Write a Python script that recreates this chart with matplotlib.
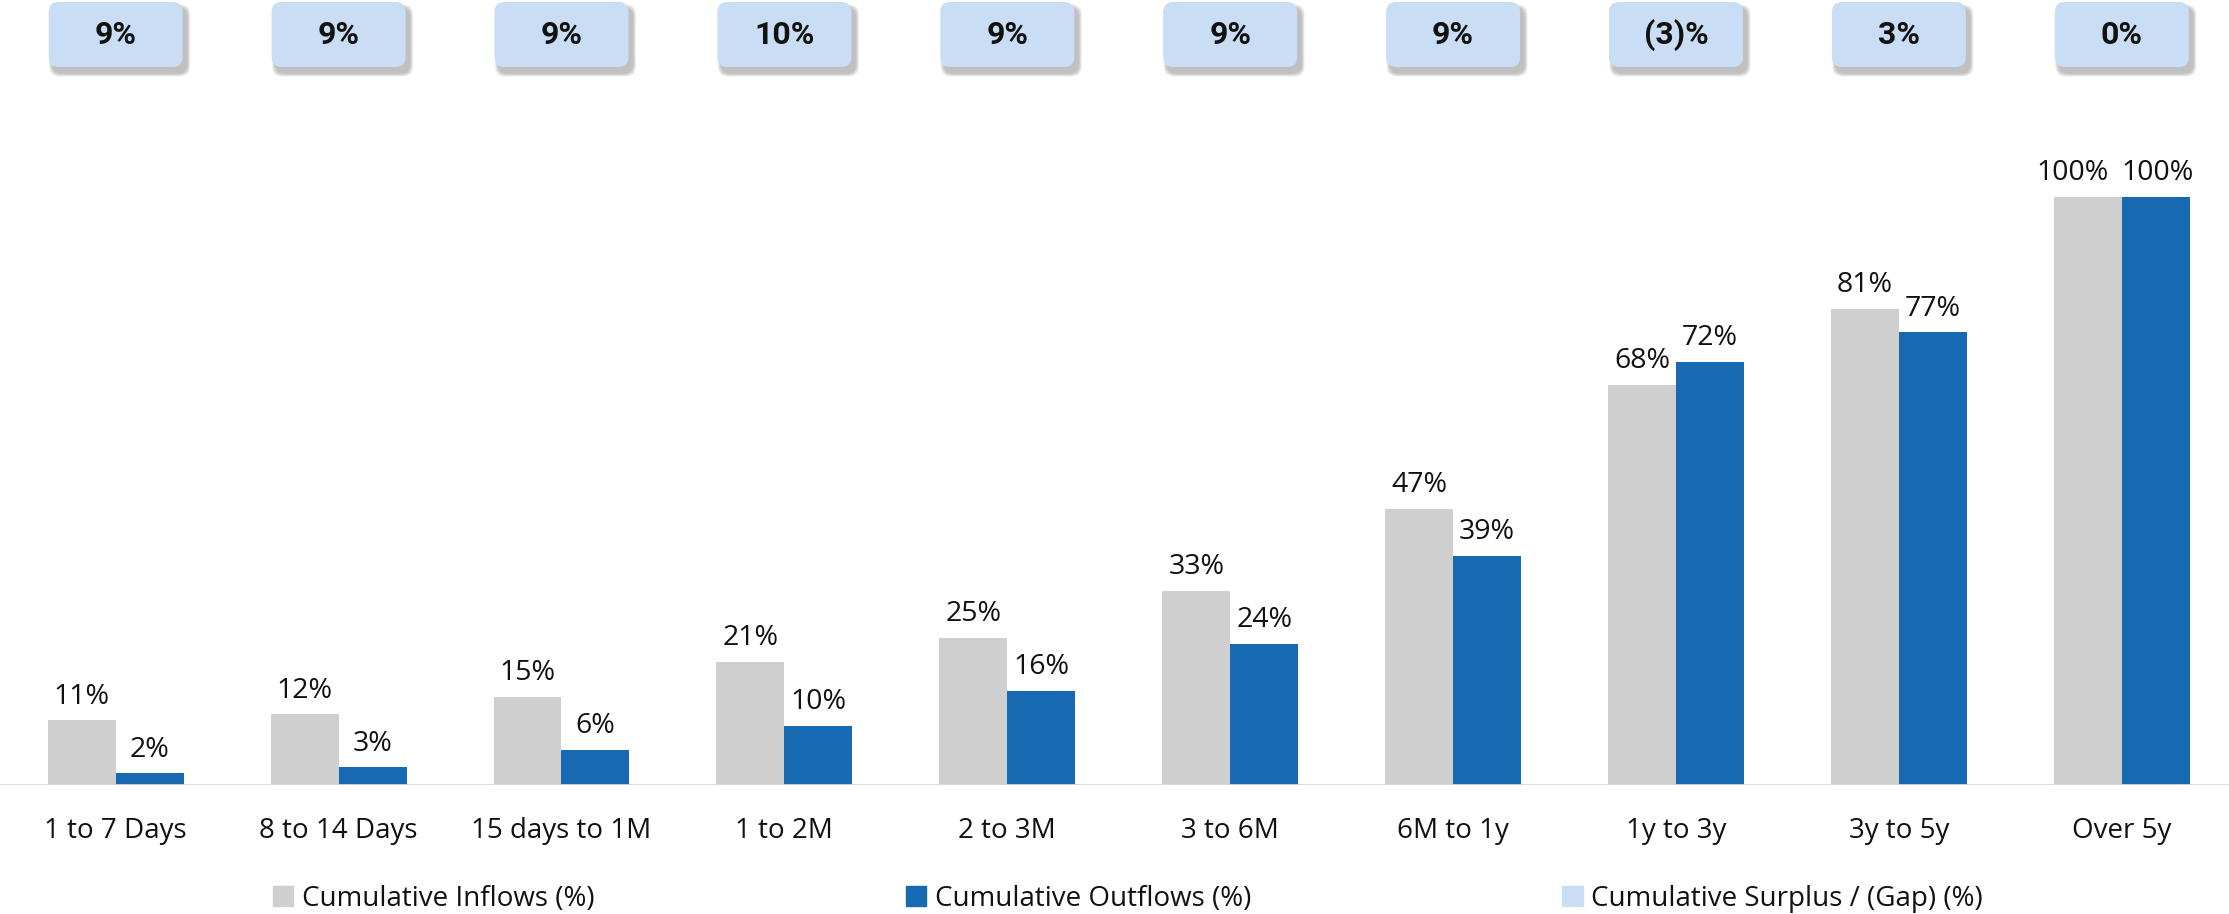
import numpy as np
import matplotlib
matplotlib.use("Agg")
import matplotlib.pyplot as plt
from matplotlib.patches import FancyBboxPatch, Patch
import matplotlib.transforms as mtransforms

plt.rcParams['font.family'] = ['Open Sans', 'DejaVu Sans']

# buckets and cumulative values (%)
buckets = ['1 to 7 Days', '8 to 14 Days', '15 days to 1M', '1 to 2M', '2 to 3M',
           '3 to 6M', '6M to 1y', '1y to 3y', '3y to 5y', 'Over 5y']
inflows = [11, 12, 15, 21, 25, 33, 47, 68, 81, 100]
outflows = [2, 3, 6, 10, 16, 24, 39, 72, 77, 100]
gap = [9, 9, 9, 10, 9, 9, 9, -3, 3, 0]

GRAY = '#cfcfcf'
BLUE = '#1769b2'
BOX = '#c9def5'

W, H = 2229, 914
fig = plt.figure(figsize=(W / 100, H / 100), dpi=100)
base_px = 129
ax = fig.add_axes([0, base_px / H, 1, 1 - base_px / H])

x = np.arange(len(buckets))
bw = 0.305
b1 = ax.bar(x - bw / 2, inflows, bw, color=GRAY, zorder=2)
b2 = ax.bar(x + bw / 2, outflows, bw, color=BLUE, zorder=2)

fmt = lambda v: f'{v}%'
t1 = ax.bar_label(b1, labels=[fmt(v) for v in inflows], padding=7, fontsize=20.5, color='#111111')
t2 = ax.bar_label(b2, labels=[fmt(v) for v in outflows], padding=7, fontsize=20.5, color='#111111')
# same-height pairs: nudge the labels apart so they don't touch
for a, b, vi, vo in zip(t1, t2, inflows, outflows):
    if vi == vo:
        a.xyann = (a.xyann[0] - 11, a.xyann[1])
        b.xyann = (b.xyann[0] + 1, b.xyann[1])

ax.set_xlim(-0.519, 9.481)
ax.set_ylim(0, (H - base_px) / 588 * 100)
ax.axhline(0, color='#d9d9d9', lw=2, zorder=3)

ax.set_xticks(x, buckets, fontsize=20, color='#111111')
ax.tick_params(axis='x', length=0, pad=23)
ax.set_yticks([])
for s in ax.spines.values():
    s.set_visible(False)

# surplus / gap boxes across the top
trans = mtransforms.blended_transform_factory(ax.transData, ax.transAxes)
ax_w_px = W
ax_h_px = H - base_px
xunit_px = ax_w_px / 10.0
aspect = xunit_px / ax_h_px
box_w = 134 / xunit_px
box_h = 65 / ax_h_px
box_y0 = 1 - 67 / ax_h_px
rad = 10 / xunit_px
dx_sh = 4 / xunit_px
dy_sh = 6 / ax_h_px

for xi, g in zip(x, gap):
    lbl = f'({abs(g)})%' if g < 0 else f'{g}%'
    # soft shadow
    for k in range(6):
        grow = (6 - k) * 1.2
        sh = FancyBboxPatch((xi - box_w / 2 + dx_sh - grow / xunit_px / 2, box_y0 - dy_sh - grow / ax_h_px / 2),
                            box_w + grow / xunit_px, box_h + grow / ax_h_px,
                            boxstyle=f'round,pad=0,rounding_size={rad}',
                            mutation_aspect=aspect, transform=trans,
                            facecolor='#555555', edgecolor='none', alpha=0.07,
                            clip_on=False, zorder=4)
        ax.add_patch(sh)
    bx = FancyBboxPatch((xi - box_w / 2, box_y0), box_w, box_h,
                        boxstyle=f'round,pad=0,rounding_size={rad}',
                        mutation_aspect=aspect, transform=trans,
                        facecolor=BOX, edgecolor='none', clip_on=False, zorder=5)
    ax.add_patch(bx)
    ax.text(xi, box_y0 + box_h / 2 - 1 / ax_h_px, lbl, transform=trans, ha='center', va='center',
            fontsize=23, fontweight='bold', family=['Roboto', 'DejaVu Sans'],
            color='#111111', zorder=6)

handles = [Patch(color=GRAY), Patch(color=BLUE), Patch(color=BOX)]
names = ['Cumulative Inflows (%)', 'Cumulative Outflows (%)', 'Cumulative Surplus / (Gap) (%)']
fig.legend(handles, names, loc='center', bbox_to_anchor=(0.506, 15 / H), ncol=3,
           frameon=False, fontsize=20, handlelength=0.75, handleheight=0.75,
           handletextpad=0.3, columnspacing=11.2, labelcolor='#111111')

fig.savefig('out.png', dpi=100)
